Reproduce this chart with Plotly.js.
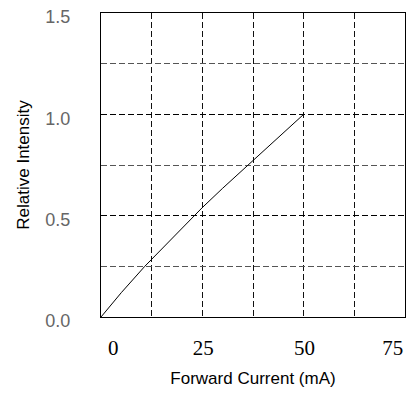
<!DOCTYPE html>
<html><head><meta charset="utf-8">
<script src="https://cdn.plot.ly/plotly-3.0.1.min.js"></script>
<style>html,body{margin:0;padding:0;background:#fff;}</style>
</head><body><div id="chart" style="width:417px;height:394px;"></div>
<script>
// Data
const forwardCurrent = [0, 5, 10.8, 15, 20, 23.1, 25, 30, 36.3, 40, 45, 50];
const relIntensity   = [0, 0.12, 0.25, 0.335, 0.44, 0.50, 0.54, 0.635, 0.75, 0.815, 0.905, 1.0];
const xTickText = ['0', '25', '50', '75'];
const yTickText = ['0.0', '0.5', '1.0', '1.5'];
const yTickVals = [0, 0.5, 1.0, 1.5];

// layout-only positions
const xTickPos = [3.0, 25.2, 50.2, 72.0];

const trace = {
  x: forwardCurrent, y: relIntensity, type: 'scatter', mode: 'lines',
  line: {color: '#000', width: 1}, hoverinfo: 'skip', showlegend: false
};

const layout = {
  width: 417, height: 394,
  margin: {l: 101, r: 12, t: 13, b: 77, pad: 0},
  paper_bgcolor: '#fff', plot_bgcolor: '#fff',
  showlegend: false,
  xaxis: {
    range: [0, 75], fixedrange: true,
    tickvals: xTickPos, ticktext: xTickText,
    ticks: '', showgrid: false, zeroline: false,
    showline: true, mirror: true, linecolor: '#000', linewidth: 1,
    tickfont: {family: 'Liberation Serif, Times New Roman, serif', size: 21, color: '#000'},
    ticklabelstandoff: 12,
    minor: {tickvals: [12.5, 25, 37.5, 50, 62.5], showgrid: true, gridcolor: '#111', gridwidth: 1, griddash: '6px,3px', ticks: ''},
    title: {text: 'Forward Current (mA)', font: {family: 'Liberation Sans, Arial, sans-serif', size: 17, color: '#000'}, standoff: 12},
    automargin: false
  },
  yaxis: {
    range: [0, 1.5], fixedrange: true,
    tickvals: yTickVals, ticktext: yTickText,
    ticks: '', showgrid: true, gridcolor: '#000', gridwidth: 1, griddash: '6px,3px',
    zeroline: false,
    showline: true, mirror: true, linecolor: '#000', linewidth: 1,
    tickfont: {family: 'Liberation Sans, Arial, sans-serif', size: 18, color: '#666'},
    ticklabelstandoff: 26, ticklabelshift: 4,
    minor: {tickvals: [0.25, 0.75, 1.25], showgrid: true, gridcolor: '#555', gridwidth: 1, griddash: '6px,3px', ticks: ''},
    title: {text: 'Relative Intensity', font: {family: 'Liberation Sans, Arial, sans-serif', size: 17, color: '#000'}, standoff: 11},
    automargin: false
  }
};

Plotly.newPlot('chart', [trace], layout, {staticPlot: true, displayModeBar: false});
</script></body></html>
